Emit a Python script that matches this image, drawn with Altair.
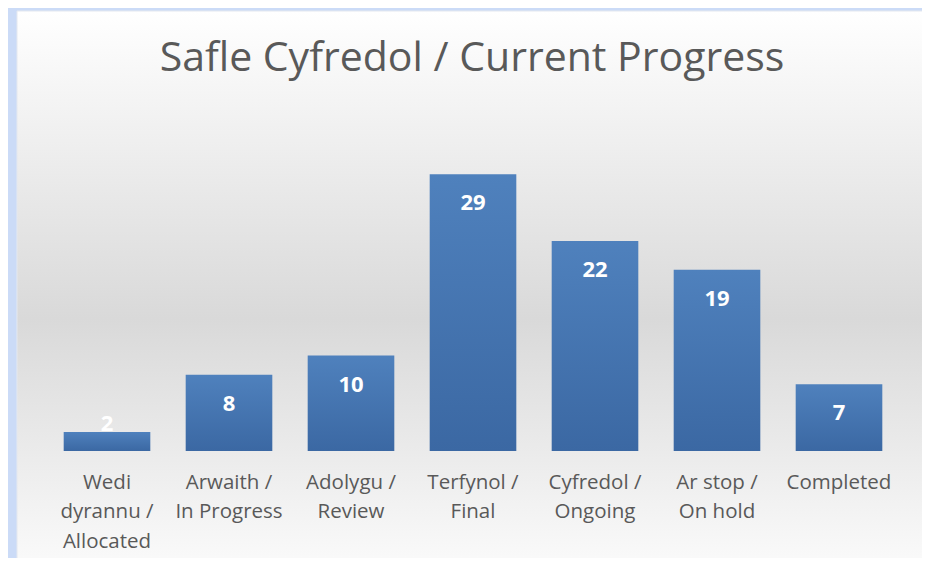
import altair as alt
import pandas as pd

categories = [
    "Wedi|dyrannu /|Allocated",
    "Arwaith /|In Progress",
    "Adolygu /|Review",
    "Terfynol /|Final",
    "Cyfredol /|Ongoing",
    "Ar stop /|On hold",
    "Completed",
]
values = [2, 8, 10, 29, 22, 19, 7]
title_text = "Safle Cyfredol / Current Progress"

df = pd.DataFrame({"cat": categories, "val": values})

W, H = 854, 334
FONT = "Open Sans"

bg = alt.Chart(pd.DataFrame({"a": [0]})).mark_rect(
    fill=alt.Gradient(
        gradient="linear",
        stops=[
            alt.GradientStop(color="#ffffff", offset=0),
            alt.GradientStop(color="#d9d9d9", offset=0.55),
            alt.GradientStop(color="#fbfbfb", offset=1),
        ],
        x1=0, x2=0, y1=0, y2=1,
    ),
    stroke="#e4e8ef",
    strokeWidth=1,
).encode(
    x=alt.value(-29), x2=alt.value(W + 40),
    y=alt.value(-106), y2=alt.value(H + 120),
)

title = alt.Chart(pd.DataFrame({"t": [title_text]})).mark_text(
    font=FONT, fontSize=41, color="#595959", baseline="middle", align="center"
).encode(x=alt.value(W / 2 - 1), y=alt.value(-58), text="t:N")

xenc = alt.X(
    "cat:N", sort=categories, title=None,
    scale=alt.Scale(paddingInner=0.29, paddingOuter=0.145),
    axis=alt.Axis(
        labelExpr="split(datum.label, '|')",
        labelAngle=0, domain=False, ticks=False, grid=False,
        labelFont=FONT, labelFontSize=20.5, labelColor="#595959",
        labelLineHeight=29.5, labelPadding=21, labelBaseline="top",
        zindex=2,
    ),
)
yenc = alt.Y("val:Q", scale=alt.Scale(domain=[0, 35]), axis=None)

bars = alt.Chart(df).mark_bar(
    color=alt.Gradient(
        gradient="linear",
        stops=[
            alt.GradientStop(color="#4f81bd", offset=0),
            alt.GradientStop(color="#3b68a3", offset=1),
        ],
        x1=0, x2=0, y1=0, y2=1,
    )
).encode(x=xenc, y=yenc)

lab_big = alt.Chart(df).transform_filter("datum.val >= 3").mark_text(
    color="white", font=FONT, fontWeight="bold", fontSize=22, dy=29, baseline="middle"
).encode(x=alt.X("cat:N", sort=categories), y="val:Q", text="val:Q")

lab_small = alt.Chart(df).transform_filter("datum.val < 3").mark_text(
    color="white", font=FONT, fontWeight="bold", fontSize=22, dy=-8, baseline="middle"
).encode(x=alt.X("cat:N", sort=categories), y="val:Q", text="val:Q")

chart = alt.layer(bg, title, bars, lab_big, lab_small).properties(
    width=W, height=H,
    autosize=alt.AutoSizeParams(type="none"),
    padding={"left": 38, "top": 109, "right": 22, "bottom": 107},
    background="#cbdbf7",
).configure_view(stroke=None)

chart.save("out.html", embed_options={"renderer": "svg", "actions": False})
